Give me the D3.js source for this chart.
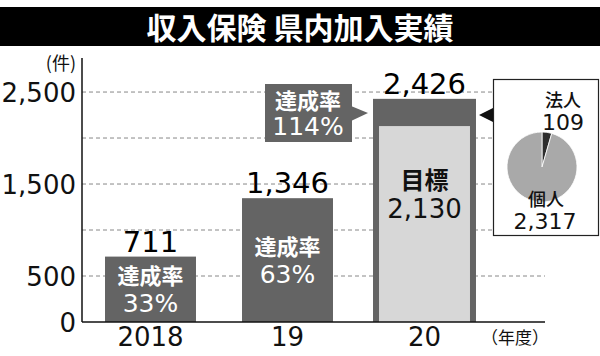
<!DOCTYPE html>
<html><head><meta charset="utf-8">
<script src="https://cdn.jsdelivr.net/npm/d3@7"></script>
<style>body{margin:0;background:#fff}svg{display:block}</style>
</head><body>
<svg id="c" width="600" height="356"></svg>
<script>
const title = "収入保険 県内加入実績";
const categories = ["2018", "19", "20"];
const totals = [711, 1346, 2426];
const rateLabels = ["33%", "63%", "114%"];
const targetValue = 2130;
const yTicks = [0, 500, 1500, 2500];
const gridValues = [500, 1000, 1500, 2000, 2500];
const pieLabels = ["法人", "個人"];
const pieValues = [109, 2317];

const svg = d3.select("#c");
const CJK = "'Noto Sans CJK JP', sans-serif";
const NUM = "'DejaVu Sans', sans-serif";

// title bar
svg.append("rect").attr("x",0).attr("y",7).attr("width",600).attr("height",39).attr("fill","#000");
svg.append("text").attr("x",300).attr("y",39).attr("text-anchor","middle")
  .attr("fill","#fff").attr("font-family",CJK).attr("font-weight",700).attr("font-size",30)
  .text(title);

const y = d3.scaleLinear().domain([0, 2870]).range([322, 58]);
const x = d3.scaleBand().domain(categories).range([82, 493]).paddingInner(0.336).paddingOuter(0.168);
const xEnd = 545;

// gridlines
svg.append("g").selectAll("line").data(gridValues).join("line")
  .attr("x1",82).attr("x2",xEnd).attr("y1",d=>y(d)).attr("y2",d=>y(d))
  .attr("stroke","#888").attr("stroke-width",1).attr("stroke-dasharray","4,3");

// y axis
const yAxis = svg.append("g").attr("transform","translate(82,0)")
  .call(d3.axisLeft(y).tickValues(yTicks).tickSize(0).tickPadding(6).tickFormat(d3.format(",")));
yAxis.select(".domain").remove();
yAxis.selectAll("text").attr("font-family",NUM).attr("font-size",26).attr("fill","#111").attr("dy","0.36em");
svg.append("line").attr("x1",82).attr("x2",82).attr("y1",58).attr("y2",322).attr("stroke","#111").attr("stroke-width",1.5);
svg.append("text").attr("x",76).attr("y",70).attr("text-anchor","end").attr("font-family",CJK)
  .attr("font-size",18).attr("fill","#111").text("(件)");

// bars
const dark = "#646464", light = "#d7d7d7";
categories.forEach((c,i)=>{
  const expand = i===2 ? 6 : 0;
  svg.append("rect").attr("x",x(c)-expand).attr("width",x.bandwidth()+expand*2)
    .attr("y",y(totals[i])).attr("height",y(0)-y(totals[i])).attr("fill",dark);
});
// target inner bar
svg.append("rect").attr("x",x("20")).attr("width",x.bandwidth())
  .attr("y",y(targetValue)).attr("height",y(0)-y(targetValue)).attr("fill",light);

// baseline
svg.append("line").attr("x1",82).attr("x2",xEnd).attr("y1",y(0)).attr("y2",y(0)).attr("stroke","#111").attr("stroke-width",1.5);

// x labels
const xAxis = svg.append("g").attr("transform",`translate(0,${y(0)})`)
  .call(d3.axisBottom(x).tickSize(0).tickPadding(6));
xAxis.select(".domain").remove();
xAxis.selectAll("text").attr("font-family",NUM).attr("font-size",26).attr("fill","#111").attr("dy","0.71em");
svg.append("text").attr("x",515).attr("y",344).attr("text-anchor","middle").attr("font-family",CJK)
  .attr("font-size",17).attr("fill","#111").text("（年度）");

// total value labels
categories.forEach((c,i)=>{
  svg.append("text").attr("x",x(c)+x.bandwidth()/2).attr("y",y(totals[i])-5)
    .attr("text-anchor","middle").attr("font-family",NUM).attr("font-size",29).attr("fill","#000")
    .text(d3.format(",")(totals[i]));
});

// rate labels inside bars (2018, 19)
const rateY = [[284, 312], [255, 283]];
[0,1].forEach(i=>{
  const cx = x(categories[i]) + x.bandwidth()/2;
  svg.append("text").attr("x",cx).attr("y",rateY[i][0]).attr("text-anchor","middle")
    .attr("font-family",CJK).attr("font-weight",700).attr("font-size",22).attr("fill","#fff").text("達成率");
  svg.append("text").attr("x",cx).attr("y",rateY[i][1]).attr("text-anchor","middle")
    .attr("font-family",NUM).attr("font-size",25).attr("fill","#fff").text(rateLabels[i]);
});

// 114% callout
svg.append("rect").attr("x",265).attr("y",84).attr("width",87).attr("height",58).attr("fill",dark);
svg.append("path").attr("d","M351,106 L368,113 L351,121 Z").attr("fill",dark);
svg.append("text").attr("x",308).attr("y",109).attr("text-anchor","middle")
  .attr("font-family",CJK).attr("font-weight",700).attr("font-size",22).attr("fill","#fff").text("達成率");
svg.append("text").attr("x",308).attr("y",135).attr("text-anchor","middle")
  .attr("font-family",NUM).attr("font-size",25).attr("fill","#fff").text(rateLabels[2]);

// target label
const tcx = x("20") + x.bandwidth()/2;
svg.append("text").attr("x",tcx).attr("y",189).attr("text-anchor","middle")
  .attr("font-family",CJK).attr("font-weight",700).attr("font-size",24).attr("fill","#111").text("目標");
svg.append("text").attr("x",tcx).attr("y",218).attr("text-anchor","middle")
  .attr("font-family",NUM).attr("font-size",26).attr("fill","#111").text(d3.format(",")(targetValue));

// pie box
svg.append("rect").attr("x",493.5).attr("y",79.5).attr("width",105).attr("height",156)
  .attr("fill","#fff").attr("stroke","#222").attr("stroke-width",1.2);
svg.append("path").attr("d","M493,108 L479,115 L493,122 Z").attr("fill","#111");

const pie = d3.pie().sort(null).value(d=>d);
const arc = d3.arc().innerRadius(0).outerRadius(35);
svg.append("g").attr("transform","translate(542,167)").selectAll("path")
  .data(pie(pieValues)).join("path").attr("d",arc)
  .attr("fill",(d,i)=> i===0 ? "#2e2e2e" : "#a9a9a9").attr("stroke","#fff").attr("stroke-width",0.8);

svg.append("text").attr("x",563).attr("y",107).attr("text-anchor","middle")
  .attr("font-family",CJK).attr("font-weight",500).attr("font-size",18).attr("fill","#111").text(pieLabels[0]);
svg.append("text").attr("x",563).attr("y",130).attr("text-anchor","middle")
  .attr("font-family",NUM).attr("font-size",22).attr("fill","#111").text(pieValues[0]);
svg.append("text").attr("x",546).attr("y",206).attr("text-anchor","middle")
  .attr("font-family",CJK).attr("font-weight",500).attr("font-size",18).attr("fill","#111").text(pieLabels[1]);
svg.append("text").attr("x",545).attr("y",229).attr("text-anchor","middle")
  .attr("font-family",NUM).attr("font-size",22).attr("fill","#111").text(d3.format(",")(pieValues[1]));
</script>
</body></html>
